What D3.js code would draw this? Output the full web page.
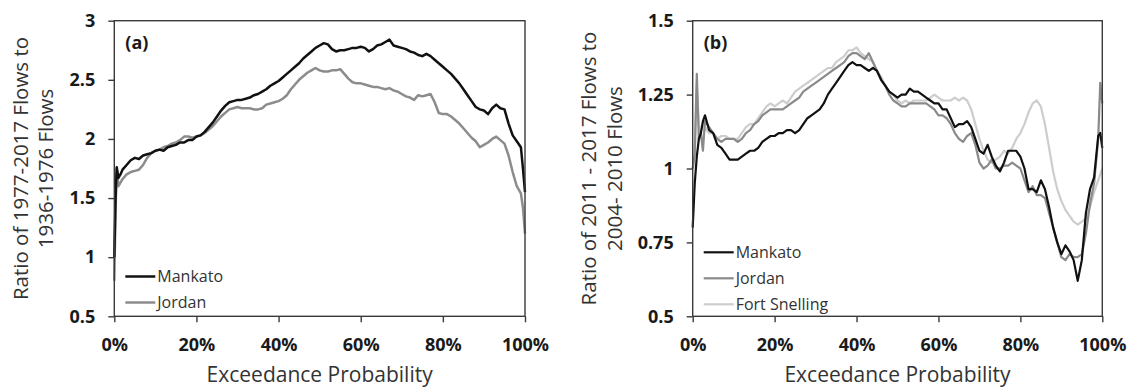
<!DOCTYPE html>
<html>
<head>
<meta charset="utf-8">
<script src="https://cdn.jsdelivr.net/npm/d3@7"></script>
<style>
  body { margin: 0; background: #fff; }
  svg { display: block; font-family: "Open Sans", sans-serif; }
</style>
</head>
<body>
<div id="chart"></div>
<script>
// ---- panel (a) data: ratio 1977-2017 / 1936-1976 ----
let pctA = [0, 0.3, 0.6, 1, 1.5, 2, 3, 4, 5, 6, 7, 8, 9, 10, 11, 12, 13, 14, 15, 16, 17, 18, 19, 20,
  21, 22, 23, 24, 25, 26, 27, 28, 29, 30, 31, 32, 33, 34, 35, 36, 37, 38, 39, 40,
  41, 42, 43, 44, 45, 46, 47, 48, 49, 50, 51, 52, 53, 54, 55, 56, 57, 58, 59, 60,
  61, 62, 63, 64, 65, 66, 67, 68, 69, 70, 71, 72, 73, 74, 75, 76, 77, 78, 79, 80,
  81, 82, 83, 84, 85, 86, 87, 88, 89, 90, 91, 92, 93, 94, 95, 96, 97, 98, 99, 99.5, 100];
let mankatoA = [1.0, 1.5, 1.76, 1.67, 1.7, 1.74, 1.78, 1.82, 1.84, 1.83, 1.86, 1.87, 1.88, 1.9, 1.91, 1.9, 1.93, 1.94, 1.95, 1.97, 1.97, 1.99, 1.99, 2.02,
  2.03, 2.06, 2.1, 2.14, 2.19, 2.24, 2.28, 2.31, 2.32, 2.33, 2.33, 2.34, 2.35, 2.37, 2.38, 2.4, 2.42, 2.45, 2.47, 2.49,
  2.52, 2.55, 2.58, 2.61, 2.64, 2.68, 2.71, 2.74, 2.77, 2.79, 2.81, 2.8, 2.76, 2.74, 2.75, 2.75, 2.76, 2.77, 2.77, 2.78,
  2.77, 2.74, 2.76, 2.79, 2.8, 2.82, 2.84, 2.79, 2.78, 2.77, 2.76, 2.74, 2.73, 2.71, 2.7, 2.72, 2.7, 2.67, 2.64, 2.61,
  2.58, 2.55, 2.51, 2.47, 2.42, 2.37, 2.32, 2.27, 2.25, 2.24, 2.21, 2.26, 2.29, 2.26, 2.25, 2.13, 2.03, 1.98, 1.93, 1.75, 1.55];
let jordanA = [0.8, 1.4, 1.75, 1.6, 1.63, 1.66, 1.7, 1.72, 1.73, 1.74, 1.78, 1.84, 1.88, 1.9, 1.91, 1.93, 1.94, 1.96, 1.97, 1.99, 2.02, 2.02, 2.01, 2.02,
  2.03, 2.05, 2.08, 2.11, 2.15, 2.19, 2.22, 2.25, 2.26, 2.27, 2.26, 2.26, 2.26, 2.25, 2.25, 2.26, 2.29, 2.3, 2.31, 2.32,
  2.34, 2.37, 2.42, 2.46, 2.5, 2.53, 2.56, 2.58, 2.6, 2.58, 2.57, 2.57, 2.58, 2.58, 2.59, 2.55, 2.51, 2.48, 2.47, 2.47,
  2.46, 2.45, 2.44, 2.44, 2.43, 2.42, 2.43, 2.41, 2.4, 2.38, 2.36, 2.35, 2.33, 2.37, 2.36, 2.37, 2.38, 2.31, 2.22, 2.21,
  2.21, 2.19, 2.16, 2.13, 2.09, 2.05, 2.01, 1.98, 1.93, 1.95, 1.97, 2.0, 2.02, 1.99, 1.96, 1.86, 1.72, 1.6, 1.54, 1.42, 1.2];
let yTicksA = [0.5, 1, 1.5, 2, 2.5, 3];

// ---- panel (b) data: ratio 2011-2017 / 2004-2010 ----
let pctB = [0, 0.5, 1, 1.5, 2, 2.5, 3, 4, 5, 6, 7, 8, 9, 10, 11, 12, 13, 14, 15, 16, 17, 18, 19, 20,
  21, 22, 23, 24, 25, 26, 27, 28, 29, 30, 31, 32, 33, 34, 35, 36, 37, 38, 39, 40,
  41, 42, 43, 44, 45, 46, 47, 48, 49, 50, 51, 52, 53, 54, 55, 56, 57, 58, 59, 60,
  61, 62, 63, 64, 65, 66, 67, 68, 69, 70, 71, 72, 73, 74, 75, 76, 77, 78, 79, 80,
  81, 82, 83, 84, 85, 86, 87, 88, 89, 90, 91, 92, 93, 94, 95, 96, 97, 98, 99, 99.5, 100];
let mankatoB = [0.8, 0.95, 1.04, 1.1, 1.12, 1.16, 1.18, 1.13, 1.12, 1.08, 1.07, 1.05, 1.03, 1.03, 1.03, 1.04, 1.05, 1.06, 1.06, 1.07, 1.09, 1.1, 1.11, 1.11,
  1.12, 1.12, 1.13, 1.13, 1.12, 1.13, 1.15, 1.17, 1.18, 1.19, 1.2, 1.22, 1.25, 1.27, 1.29, 1.31, 1.33, 1.35, 1.36, 1.35,
  1.35, 1.34, 1.33, 1.34, 1.33, 1.3, 1.28, 1.26, 1.25, 1.24, 1.25, 1.25, 1.27, 1.26, 1.26, 1.25, 1.24, 1.23, 1.22, 1.22,
  1.2, 1.2, 1.17, 1.14, 1.15, 1.15, 1.16, 1.14, 1.1, 1.06, 1.05, 1.08, 1.04, 1.01, 0.99, 1.02, 1.06, 1.06, 1.06, 1.04,
  1.0, 0.93, 0.93, 0.92, 0.96, 0.93, 0.87, 0.8, 0.75, 0.71, 0.74, 0.72, 0.69, 0.62, 0.69, 0.85, 0.93, 0.97, 1.11, 1.12, 1.07];
let jordanB = [1.0, 1.05, 1.32, 1.1, 1.12, 1.06, 1.16, 1.14, 1.12, 1.1, 1.09, 1.1, 1.1, 1.1, 1.09, 1.1, 1.12, 1.13, 1.15, 1.16, 1.18, 1.19, 1.2, 1.2,
  1.2, 1.2, 1.21, 1.22, 1.23, 1.24, 1.26, 1.27, 1.28, 1.29, 1.3, 1.31, 1.32, 1.33, 1.34, 1.35, 1.36, 1.38, 1.39, 1.39,
  1.38, 1.37, 1.39, 1.36, 1.33, 1.3, 1.28, 1.25, 1.23, 1.22, 1.21, 1.21, 1.22, 1.22, 1.22, 1.22, 1.22, 1.21, 1.2, 1.18,
  1.18, 1.17, 1.15, 1.12, 1.1, 1.09, 1.11, 1.12, 1.08, 1.02, 1.0, 1.01, 1.03, 1.0, 1.0, 1.01, 1.01, 1.02, 1.01, 1.0,
  0.96, 0.92, 0.94, 0.91, 0.91, 0.9, 0.85, 0.8, 0.75, 0.7, 0.69, 0.71, 0.7, 0.7, 0.71, 0.78, 0.88, 0.95, 1.1, 1.29, 1.22];
let fortSnellingB = [1.0, 1.05, 1.28, 1.15, 1.1, 1.1, 1.14, 1.12, 1.12, 1.1, 1.11, 1.11, 1.1, 1.1, 1.1, 1.12, 1.14, 1.15, 1.15, 1.17, 1.19, 1.21, 1.22, 1.21,
  1.22, 1.23, 1.22, 1.24, 1.26, 1.27, 1.28, 1.29, 1.3, 1.31, 1.32, 1.33, 1.34, 1.34, 1.36, 1.37, 1.38, 1.4, 1.4, 1.41,
  1.39, 1.38, 1.37, 1.36, 1.33, 1.31, 1.28, 1.26, 1.25, 1.23, 1.22, 1.23, 1.22, 1.23, 1.23, 1.23, 1.23, 1.24, 1.25, 1.24,
  1.23, 1.23, 1.23, 1.24, 1.23, 1.24, 1.23, 1.2, 1.15, 1.1, 1.06, 1.03, 1.02, 1.03, 1.04, 1.06, 1.05, 1.07, 1.1, 1.12,
  1.15, 1.19, 1.22, 1.23, 1.21, 1.15, 1.07, 0.99, 0.93, 0.89, 0.86, 0.84, 0.82, 0.81, 0.82, 0.83, 0.87, 0.92, 0.96, 0.98, 1.0];
let yTicksB = [0.5, 0.75, 1, 1.25, 1.5];

let xTicks = [0, 20, 40, 60, 80, 100];

const W = 1129, H = 388;
const svg = d3.select('#chart').append('svg').attr('width', W).attr('height', H);

let panels = [
  {
    tag: '(a)', left: 114.3, right: 525, yDomain: [0.5, 3], yTicks: yTicksA,
    yTitle: ['Ratio of 1977-2017 Flows to', '1936-1976 Flows'], yTitleX: [28, 53],
    pct: pctA,
    series: [
      { name: 'Mankato', values: mankatoA, color: '#111', width: 2.5 },
      { name: 'Jordan', values: jordanA, color: '#8c8c8c', width: 2.5 }
    ],
    legendY: 276.5
  },
  {
    tag: '(b)', left: 692.7, right: 1102.3, yDomain: [0.5, 1.5], yTicks: yTicksB,
    yTitle: ['Ratio of 2011 - 2017 Flows to', '2004- 2010 Flows'], yTitleX: [596, 622],
    pct: pctB,
    series: [
      { name: 'Mankato', values: mankatoB, color: '#111', width: 2.2 },
      { name: 'Jordan', values: jordanB, color: '#8a8a8a', width: 2.2 },
      { name: 'Fort Snelling', values: fortSnellingB, color: '#cdcdcd', width: 2.2 }
    ],
    legendY: 252.3
  }
];

const plotTop = 20.7, plotBottom = 316.3;

panels.forEach(function(p) {
  let x = d3.scaleLinear().domain([0, 100]).range([p.left, p.right]);
  let y = d3.scaleLinear().domain(p.yDomain).range([plotBottom, plotTop]);
  let g = svg.append('g');

  let line = d3.line()
    .x(function(d) { return x(d[0]); })
    .y(function(d) { return y(d[1]); });
  // lighter series underneath, Mankato on top
  p.series.slice().reverse().forEach(function(s) {
    let pts = p.pct.map(function(v, i) { return [v, s.values[i]]; });
    g.append('path')
      .datum(pts)
      .attr('fill', 'none')
      .attr('stroke', s.color)
      .attr('stroke-width', s.width)
      .attr('stroke-linejoin', 'round')
      .attr('d', line);
  });

  // frame
  g.append('rect')
    .attr('x', p.left).attr('y', plotTop)
    .attr('width', p.right - p.left).attr('height', plotBottom - plotTop)
    .attr('fill', 'none').attr('stroke', '#3a3a3a').attr('stroke-width', 1.4);

  let yAxis = g.append('g')
    .attr('transform', 'translate(' + p.left + ',0)')
    .call(d3.axisLeft(y).tickValues(p.yTicks).tickSize(6).tickPadding(13)
      .tickFormat(function(d) { return String(d); }));
  let xAxis = g.append('g')
    .attr('transform', 'translate(0,' + plotBottom + ')')
    .call(d3.axisBottom(x).tickValues(xTicks).tickSize(6).tickPadding(16)
      .tickFormat(function(d) { return d + '%'; }));

  [yAxis, xAxis].forEach(function(a) {
    a.select('.domain').remove();
    a.selectAll('line').attr('stroke', '#3a3a3a').attr('stroke-width', 1.4);
    a.selectAll('text')
      .attr('fill', '#1a1a1a')
      .style('font-size', '18px')
      .style('font-weight', 'bold')
      .style('font-family', '"Open Sans", sans-serif');
  });

  // axis titles
  g.append('text')
    .attr('x', (p.left + p.right) / 2).attr('y', 382)
    .attr('text-anchor', 'middle')
    .attr('fill', '#333')
    .style('font-size', '21px')
    .text('Exceedance Probability');

  p.yTitle.forEach(function(t, i) {
    g.append('text')
      .attr('transform', 'translate(' + p.yTitleX[i] + ',' + ((plotTop + plotBottom) / 2) + ') rotate(-90)')
      .attr('text-anchor', 'middle')
      .attr('fill', '#333')
      .style('font-size', '20.5px')
      .text(t);
  });

  // panel tag
  g.append('text')
    .attr('x', p.left + 11).attr('y', 49)
    .attr('fill', '#1a1a1a')
    .style('font-size', '18px')
    .style('font-weight', 'bold')
    .text(p.tag);

  // legend
  let leg = g.append('g');
  p.series.forEach(function(s, i) {
    let ly = p.legendY + i * 26;
    leg.append('line')
      .attr('x1', p.left + 11).attr('x2', p.left + 41)
      .attr('y1', ly).attr('y2', ly)
      .attr('stroke', s.color).attr('stroke-width', s.width);
    leg.append('text')
      .attr('x', p.left + 43).attr('y', ly)
      .attr('dy', '0.35em')
      .attr('fill', '#333')
      .style('font-size', '16px')
      .text(s.name);
  });
});
</script>
</body>
</html>
